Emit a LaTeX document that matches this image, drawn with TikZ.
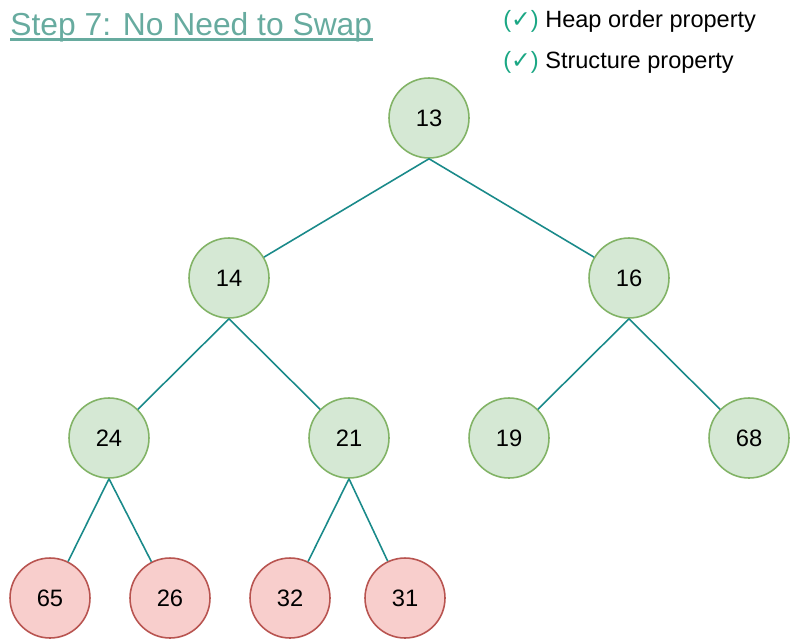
\documentclass[tikz,border=0pt]{standalone}
\usepackage{fontspec}
\setmainfont{Liberation Sans}
\newfontfamily\symfont{DejaVu Sans}
\usetikzlibrary{positioning}
\definecolor{okfill}{HTML}{D5E8D4}
\definecolor{okdraw}{HTML}{82B366}
\definecolor{badfill}{HTML}{F8CECC}
\definecolor{baddraw}{HTML}{B85450}
\definecolor{linkcol}{HTML}{1A8A8A}
\definecolor{titlecol}{HTML}{67AB9F}
\definecolor{tickcol}{HTML}{1BA784}

\begin{document}
\begin{tikzpicture}[x=0.02cm, y=-0.02cm,
    heapnode/.style={circle, draw=okdraw, fill=okfill, line width=0.9pt,
        minimum size=1.6cm, inner sep=0pt, font=\fontsize{13.5}{16}\selectfont},
    leafnode/.style={heapnode, draw=baddraw, fill=badfill},
    link/.style={draw=linkcol, line width=0.9pt},
    prop/.style={anchor=base west, inner sep=0pt, font=\fontsize{13.4}{16}\selectfont}
]
\useasboundingbox (0,0) rectangle (790,639);

% --- Title ---
\node[anchor=base west, inner sep=0pt, text=titlecol, font=\fontsize{18.1}{21}\selectfont] (title) at (10,35)
    {Step 7: No Need to Swap};
\draw[titlecol, line width=1.4pt] ([yshift=-2.6pt]title.base west) -- ([yshift=-2.6pt]title.base east);

% --- Properties ---
\node[prop] (heapok) at (503,28) {{\color{tickcol}({\symfont\char"2713})} Heap order property};
\node[prop] (structok) at (503,68) {{\color{tickcol}({\symfont\char"2713})} Structure property};

% --- Heap nodes ---
\node[heapnode] (n13) at (429,118) {13};
\node[heapnode] (n14) at (229,278) {14};
\node[heapnode] (n16) at (629,278) {16};
\node[heapnode] (n24) at (109,438) {24};
\node[heapnode] (n21) at (349,438) {21};
\node[heapnode] (n19) at (509,438) {19};
\node[heapnode] (n68) at (749,438) {68};
\node[leafnode] (n65) at (50,598) {65};
\node[leafnode] (n26) at (170,598) {26};
\node[leafnode] (n32) at (290,598) {32};
\node[leafnode] (n31) at (405,598) {31};

% --- Edges ---
\foreach \p/\c in {n13/n14, n13/n16, n14/n24, n14/n21, n16/n19, n16/n68,
                   n24/n65, n24/n26, n21/n32, n21/n31}
    \draw[link] (\p.south) -- (\c);

\end{tikzpicture}
\end{document}
